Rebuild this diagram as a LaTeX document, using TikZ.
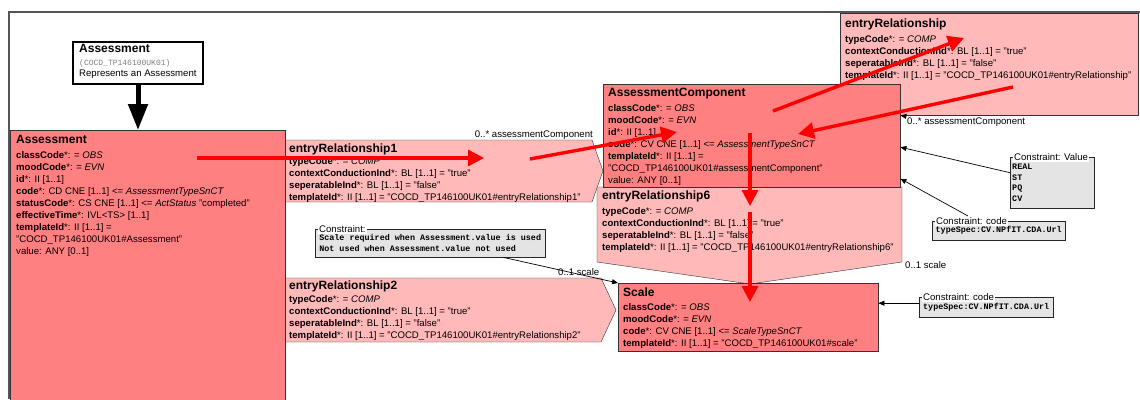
\documentclass[tikz,border=0pt]{standalone}
\usepackage{fontspec}
\setmainfont{Liberation Sans}
\setmonofont{Liberation Mono}
\usepackage{tikz}
\usetikzlibrary{arrows.meta,positioning,shadows}
\definecolor{clsred}{HTML}{FF8080}
\definecolor{relpink}{HTML}{FFB9B9}
\definecolor{notegray}{HTML}{E4E4E4}
\definecolor{framegray}{HTML}{555555}
\newcommand{\bodyfont}{\fontsize{9.6}{12}\selectfont}
\newcommand{\ttlfont}{\fontsize{12}{14}\selectfont\bfseries}
\newcommand{\notefont}{\fontsize{8.4}{10.6}\selectfont\ttfamily\bfseries}
\newcommand{\reqattr}[1]{\textbf{#1}*:}
\newcommand{\relbody}[1]{\reqattr{typeCode} = \textit{COMP}\\
  \reqattr{contextConductionInd} BL [1..1] = "true"\\
  \reqattr{seperatableInd} BL [1..1] = "false"\\
  \reqattr{templateId} II [1..1] = "COCD\_TP146100UK01\#entryRelationship#1"}

\begin{document}
\begin{tikzpicture}[x=1pt, y=-1pt,
  clsbox/.style={draw=black!80, fill=#1, anchor=north west, inner sep=0pt},
  clsbox/.default=clsred,
  boxtext/.style={anchor=north west, inner sep=0pt, align=left, font=\bodyfont},
  relshape/.style={draw=black!80, fill=relpink},
  note/.style={draw=black!85, fill=notegray, anchor=north west,
               inner xsep=2pt, inner ysep=3pt, align=left, font=\notefont,
               drop shadow={shadow xshift=1.2pt, shadow yshift=-1.2pt,
                            opacity=1, fill=black!70}},
  notelabel/.style={fill=white, inner sep=1pt, font=\bodyfont, anchor=west},
  role/.style={font=\bodyfont, inner sep=0pt},
  assoc/.style={-{Triangle[length=6pt,width=5pt]}, black, line width=0.7pt},
  redmark/.style={-{Triangle[length=16pt,width=16pt]}, red, line width=3.4pt},
]
\useasboundingbox (0,0) rectangle (1140,399);
\clip (0,0) rectangle (1140,399);

% Frame
\draw[framegray, line width=1.5pt] (1140,12) -- (9,12) -- (9,399);

% Header
\node[clsbox=white, draw=black, line width=2pt,
      minimum width=130pt, minimum height=42pt] (assesshdr) at (72,41) {};
\node[boxtext] (assesshdrtxt) at (79,44.3)
  {{\ttlfont Assessment}\\[1pt]
   {\fontsize{8}{9}\selectfont\ttfamily\color{gray}(COCD\_TP146100UK01)}\\[-1pt]
   Represents an Assessment};

% entryRelationship1
\draw[relshape] (285,140) -- (592,140) -- (603,171) -- (592,202) -- (285,202) -- cycle;
\node[boxtext] (er1txt) at (289,143.3)
  {{\ttlfont entryRelationship1}\\[0pt]\relbody{1}};
\node[role, anchor=base east] (er1role) at (593,137) {0..* assessmentComponent};

% entryRelationship2
\draw[relshape] (285,278) -- (601,278) -- (616,310) -- (601,342) -- (285,342) -- cycle;
\node[boxtext] (er2txt) at (289,280.3)
  {{\ttlfont entryRelationship2}\\[1pt]\relbody{2}};
\node[role, anchor=base west] (er2role) at (558,275) {0..1 scale};

% Assessment
\node[clsbox, minimum width=275pt, minimum height=280pt] (assess) at (10,130) {};
\node[boxtext] (assesstxt) at (16,135.3)
  {{\ttlfont Assessment}\\[3pt]
   \reqattr{classCode} = \textit{OBS}\\
   \reqattr{moodCode} = \textit{EVN}\\
   \reqattr{id} II [1..1]\\
   \reqattr{code} CD CNE [1..1] <= \textit{AssessmentTypeSnCT}\\
   \reqattr{statusCode} CS CNE [1..1] <= \textit{ActStatus} "completed"\\
   \reqattr{effectiveTime} IVL<TS> [1..1]\\
   \reqattr{templateId} II [1..1] =\\
   "COCD\_TP146100UK01\#Assessment"\\
   value: ANY [0..1]};
\draw[-{Triangle[length=26pt,width=19pt]}, line width=5pt]
  (assesshdr.south) -- (assesshdr.south |- assess.north);

% entryRelationship
\node[clsbox=relpink, minimum width=298pt, minimum height=102pt] (ertop) at (840,13) {};
\node[boxtext] (ertoptxt) at (845,18.3)
  {{\ttlfont entryRelationship}\\[3pt]\relbody{}};

% entryRelationship6
\draw[relshape] (597,187) -- (902,187) -- (902,262) -- (750,284) -- (597,262) -- cycle;
\node[boxtext] (er6txt) at (602,190.3)
  {{\ttlfont entryRelationship6}\\[3pt]\relbody{6}};
\node[role, anchor=base west] (er6role) at (905,268) {0..1 scale};

% AssessmentComponent
\node[clsbox, minimum width=297pt, minimum height=103pt] (accomp) at (603,84) {};
\node[boxtext] (accomptxt) at (608,88.3)
  {{\ttlfont AssessmentComponent}\\[2.5pt]
   \reqattr{classCode} = \textit{OBS}\\
   \reqattr{moodCode} = \textit{EVN}\\
   \reqattr{id} II [1..1]\\
   \reqattr{code} CV CNE [1..1] <= \textit{AssessmentTypeSnCT}\\
   \reqattr{templateId} II [1..1] =\\
   "COCD\_TP146100UK01\#assessmentComponent"\\
   value: ANY [0..1]};
\coordinate (ertip) at (accomp.east |- ertop.south);
\draw[assoc] ([xshift=6pt,yshift=-1pt]ertip) -- (ertip);
\node[role, anchor=base west] (ertoprole) at (907,124) {0..* assessmentComponent};

% Scale
\node[clsbox, minimum width=260pt, minimum height=68pt] (scale) at (618,283) {};
\node[boxtext] (scaletxt) at (623,287.8)
  {{\ttlfont Scale}\\[1.5pt]
   \reqattr{classCode} = \textit{OBS}\\
   \reqattr{moodCode} = \textit{EVN}\\
   \reqattr{code} CV CNE [1..1] <= \textit{ScaleTypeSnCT}\\
   \reqattr{templateId} II [1..1] = "COCD\_TP146100UK01\#scale"};

% Constraints
\node[note, minimum width=230pt, minimum height=28pt] (scalenote) at (315,229)
  {Scale required when Assessment.value is used\\Not used when Assessment.value not used};
\node[notelabel] (scalenotelbl) at ([xshift=3pt]scalenote.north west) {Constraint:};
\draw[assoc] ([xshift=-42pt]scalenote.south east) -- (scale.north west);

\node[note, text width=80pt, minimum height=51pt] (valuenote) at (1010,157)
  {REAL\\ST\\PQ\\CV};
\node[notelabel] (valuenotelbl) at ([xshift=3pt]valuenote.north west) {Constraint: Value};
\draw[assoc] ([yshift=10pt]valuenote.west) -- ([yshift=-11.5pt]accomp.east);

\node[note, minimum width=133pt, minimum height=19pt] (codenote) at (932,221)
  {typeSpec:CV.NPfIT.CDA.Url};
\node[notelabel] (codenotelbl) at ([xshift=3pt]codenote.north west) {Constraint: code};
\draw[assoc] ([xshift=36pt,yshift=5pt]codenote.north west) -- ([yshift=-43pt]accomp.east);

\node[note, minimum width=134pt, minimum height=20pt] (scalecodenote) at (919,297)
  {typeSpec:CV.NPfIT.CDA.Url};
\node[notelabel] (scalecodenotelbl) at ([xshift=3pt]scalecodenote.north west) {Constraint: code};
\coordinate (scalecodein) at ([yshift=4pt]scalecodenote.west);
\draw[assoc] (scalecodein) -- (scalecodein -| scale.east);

% Red marks
\coordinate (m1a) at (197,158); \coordinate (m1b) at (484,158);
\coordinate (m2a) at (530,159); \coordinate (m2b) at (677,132);
\coordinate (m3a) at (773,111); \coordinate (m3b) at (964,38);
\coordinate (m4a) at (1013,87); \coordinate (m4b) at (798,134);
\coordinate (m5a) at (750,133); \coordinate (m5b) at (750,206);
\coordinate (m6a) at (750,212); \coordinate (m6b) at (750,302);
\foreach \a/\b in {m1a/m1b, m2a/m2b, m3a/m3b, m4a/m4b, m5a/m5b, m6a/m6b}
  \draw[redmark] (\a) -- (\b);
\end{tikzpicture}
\end{document}
